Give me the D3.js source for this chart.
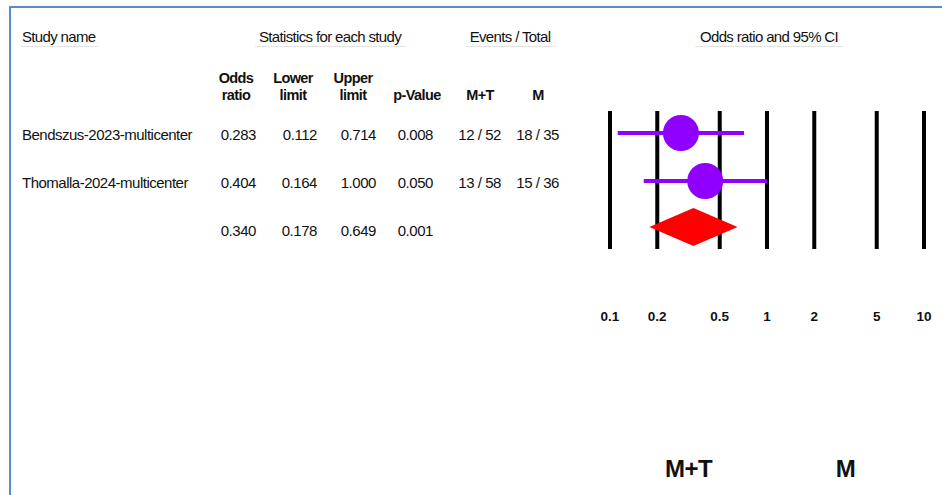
<!DOCTYPE html>
<html>
<head>
<meta charset="utf-8">
<script src="https://cdn.jsdelivr.net/npm/d3@7"></script>
<style>
  body { margin: 0; background: #fff; }
  svg text { font-family: "Liberation Sans", Arial, sans-serif; fill: #111; }
</style>
</head>
<body>
<div id="forest"></div>
<script>
// study rows (last row = pooled estimate)
const studies = ["Bendszus-2023-multicenter", "Thomalla-2024-multicenter", ""];
const oddsRatio = [0.283, 0.404, 0.340];
const lowerLimit = [0.112, 0.164, 0.178];
const upperLimit = [0.714, 1.000, 0.649];
const pValue = [0.008, 0.050, 0.001];
const eventsMT = ["12 / 52", "13 / 58", ""];
const eventsM = ["18 / 35", "15 / 36", ""];
const axisTicks = [0.1, 0.2, 0.5, 1, 2, 5, 10];
const favourLabels = ["M+T", "M"];

function forestPlot() {
    const width = 942;
    const height = 495;

    const svg = d3.select("#forest").append("svg")
        .attr("width", width)
        .attr("height", height);

    // frame (top + left edge only)
    svg.append("line").attr("x1", 9).attr("x2", width).attr("y1", 7).attr("y2", 7)
        .attr("stroke", "#5b8bc8").attr("stroke-width", 2);
    svg.append("line").attr("x1", 10).attr("x2", 10).attr("y1", 7).attr("y2", height)
        .attr("stroke", "#5b8bc8").attr("stroke-width", 2);

    const rowY = d3.scalePoint().domain(d3.range(studies.length)).range([135, 231]);
    const x = d3.scaleLog().domain([0.1, 10]).range([610, 924]);

    // top group headers with faint underline
    const groups = [
        { label: "Study name", x: 22, anchor: "start", x0: 21, x1: 98 },
        { label: "Statistics for each study", x: 330, anchor: "middle", x0: 255, x1: 406 },
        { label: "Events / Total", x: 510, anchor: "middle", x0: 466, x1: 554 },
        { label: "Odds ratio and 95% CI", x: 769, anchor: "middle", x0: 695, x1: 843 }
    ];
    const g = svg.selectAll(".group").data(groups).enter().append("g").attr("class", "group");
    g.append("text")
        .attr("x", d => d.x).attr("y", 42)
        .attr("text-anchor", d => d.anchor)
        .style("font-size", "15px")
        .style("letter-spacing", "-0.65px")
        .text(d => d.label);
    g.append("line")
        .attr("x1", d => d.x0).attr("x2", d => d.x1)
        .attr("y1", 46.5).attr("y2", 46.5)
        .attr("stroke", "#e2e2e2").attr("stroke-width", 1);

    // column definitions
    const columns = [
        { head: ["Odds", "ratio"], hx: 236, right: 256, values: oddsRatio.map(d => d.toFixed(3)) },
        { head: ["Lower", "limit"], hx: 293, right: 317, values: lowerLimit.map(d => d.toFixed(3)) },
        { head: ["Upper", "limit"], hx: 353, right: 376, values: upperLimit.map(d => d.toFixed(3)) },
        { head: ["", "p-Value"], hx: 417, right: 433, values: pValue.map(d => d.toFixed(3)) },
        { head: ["", "M+T"], hx: 480, right: 501, values: eventsMT },
        { head: ["", "M"], hx: 538, right: 559, values: eventsM }
    ];

    columns.forEach(col => {
        col.head.forEach((h, i) => {
            svg.append("text")
                .attr("x", col.hx).attr("y", 83 + i * 17)
                .attr("text-anchor", "middle")
                .style("font-size", "14.5px")
                .style("font-weight", "bold")
                .style("letter-spacing", "-0.6px")
                .text(h);
        });
        svg.selectAll(null).data(col.values).enter().append("text")
            .attr("x", col.right)
            .attr("y", (d, i) => rowY(i) + 5)
            .attr("text-anchor", "end")
            .style("font-size", "15px")
            .style("letter-spacing", "-0.45px")
            .text(d => d);
    });

    svg.selectAll(".study").data(studies).enter().append("text")
        .attr("class", "study")
        .attr("x", 22)
        .attr("y", (d, i) => rowY(i) + 5)
        .style("font-size", "15px")
        .style("letter-spacing", "-0.5px")
        .text(d => d);

    // vertical reference lines at each tick
    svg.selectAll(".vline").data(axisTicks).enter().append("line")
        .attr("class", "vline")
        .attr("x1", d => x(d)).attr("x2", d => x(d))
        .attr("y1", 111).attr("y2", 249)
        .attr("stroke", "#000").attr("stroke-width", 4);

    svg.selectAll(".tick-label").data(axisTicks).enter().append("text")
        .attr("class", "tick-label")
        .attr("x", d => x(d)).attr("y", 321)
        .attr("text-anchor", "middle")
        .style("font-size", "13.5px")
        .style("font-weight", "bold")
        .text(d => d);

    // individual studies: CI line + circle
    const individual = d3.range(studies.length - 1);
    svg.selectAll(".ci").data(individual).enter().append("line")
        .attr("class", "ci")
        .attr("x1", i => x(lowerLimit[i])).attr("x2", i => x(upperLimit[i]))
        .attr("y1", i => rowY(i) - 2).attr("y2", i => rowY(i) - 2)
        .attr("stroke", "#8f00ff").attr("stroke-width", 4);
    svg.selectAll(".pt").data(individual).enter().append("circle")
        .attr("class", "pt")
        .attr("cx", i => x(oddsRatio[i]))
        .attr("cy", i => rowY(i) - 2)
        .attr("r", 18)
        .attr("fill", "#8f00ff");

    // pooled diamond
    const p = studies.length - 1;
    const cy = rowY(p) - 4;
    svg.append("polygon")
        .attr("points", [
            [x(lowerLimit[p]), cy],
            [x(oddsRatio[p]), cy - 19],
            [x(upperLimit[p]), cy],
            [x(oddsRatio[p]), cy + 19]
        ].map(d => d.join(",")).join(" "))
        .attr("fill", "#ff0000");

    // favours labels
    svg.selectAll(".fav").data(favourLabels).enter().append("text")
        .attr("class", "fav")
        .attr("x", (d, i) => x(i === 0 ? Math.sqrt(0.1) : Math.sqrt(10)))
        .attr("y", 477)
        .attr("text-anchor", "middle")
        .style("font-size", "24px")
        .style("font-weight", "bold")
        .style("letter-spacing", "-0.5px")
        .text(d => d);
}

forestPlot();
</script>
</body>
</html>
